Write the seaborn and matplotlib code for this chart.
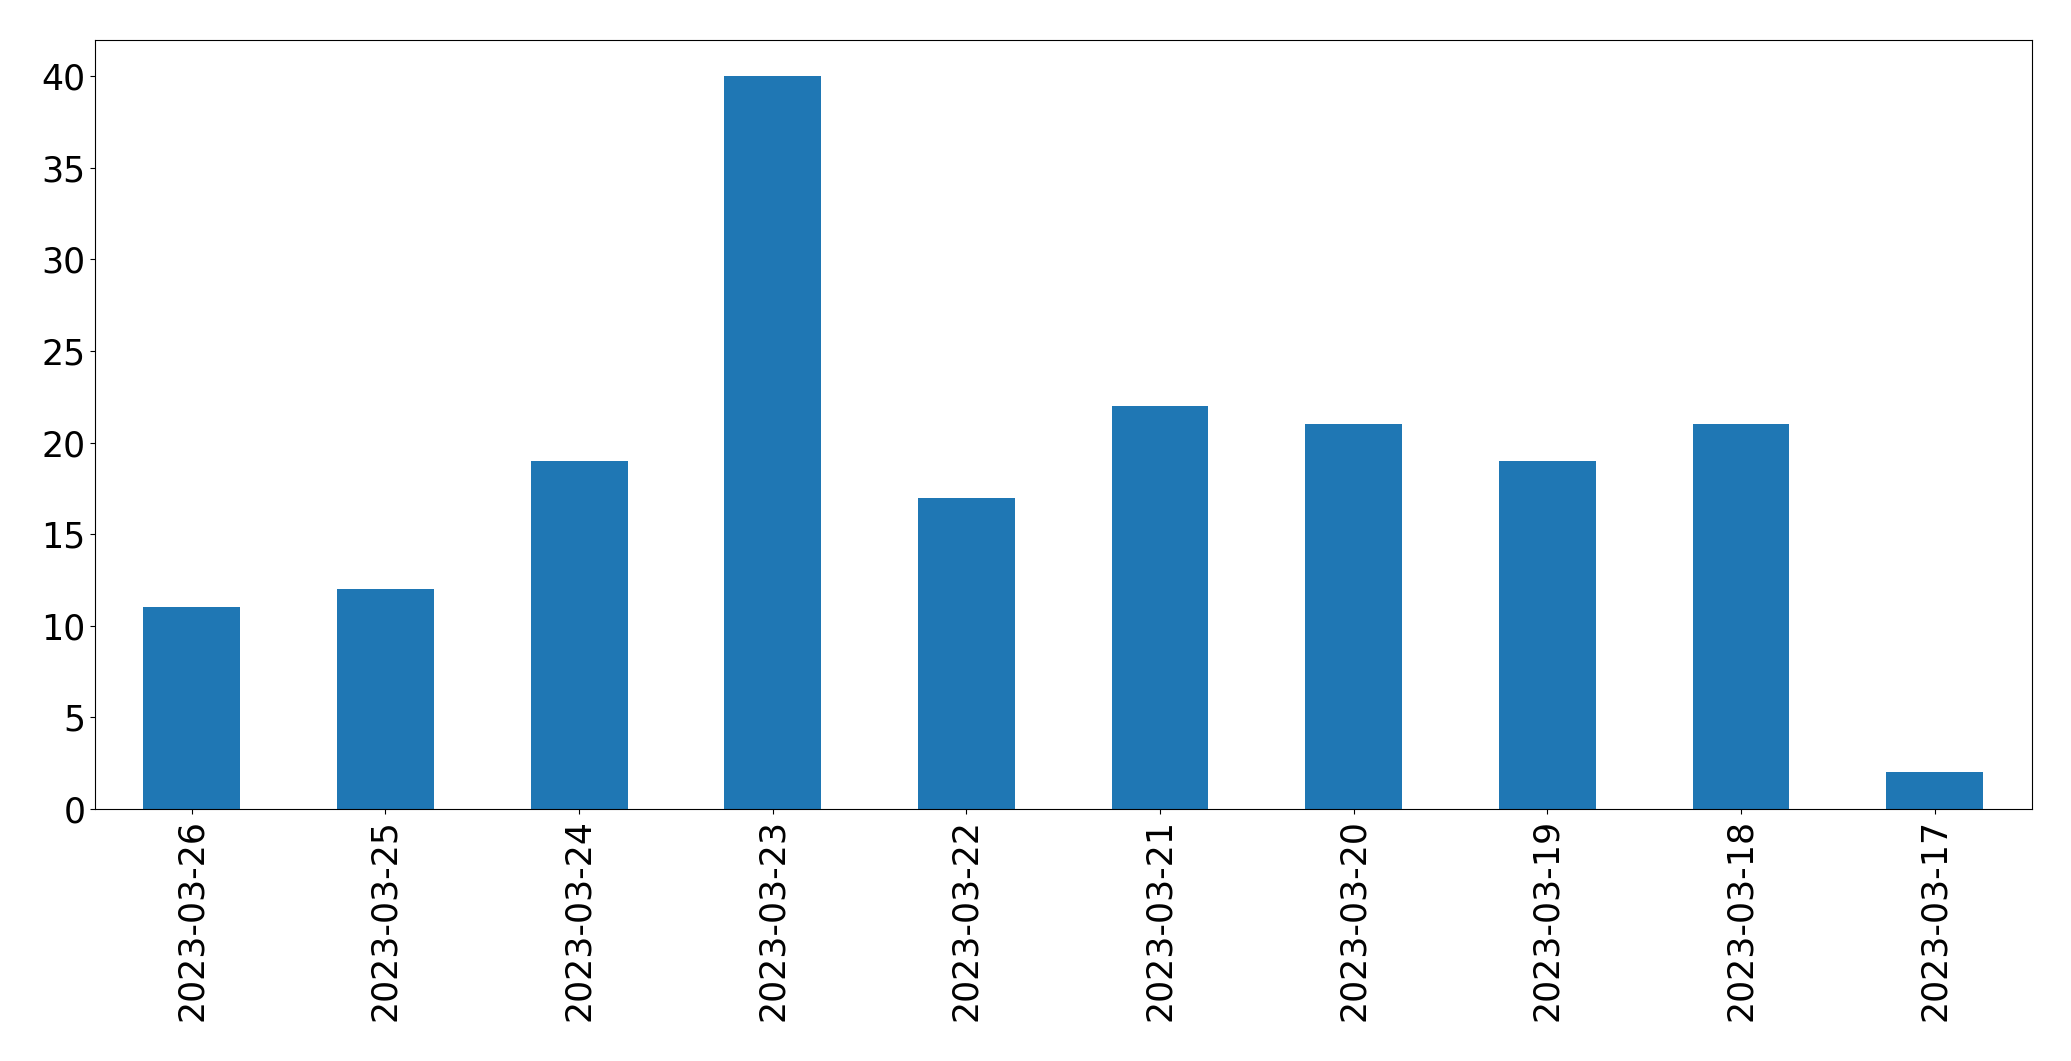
import matplotlib
matplotlib.use("Agg")
import matplotlib.pyplot as plt
import seaborn as sns
import pandas as pd

dates = ["2023-03-26", "2023-03-25", "2023-03-24", "2023-03-23", "2023-03-22",
         "2023-03-21", "2023-03-20", "2023-03-19", "2023-03-18", "2023-03-17"]
counts = [11, 12, 19, 40, 17, 22, 21, 19, 21, 2]

df = pd.DataFrame({"date": dates, "count": counts})

plt.rcParams['font.family'] = ['DejaVu Sans']
fig = plt.figure(figsize=(20.71, 10.61), dpi=100)
ax = fig.add_axes([95 / 2071, 1 - 809 / 1061, (2031.5 - 95) / 2071, (809 - 39.5) / 1061])

sns.barplot(data=df, x="date", y="count", order=dates, color="#1f77b4",
            saturation=1, width=0.5, ax=ax, errorbar=None)

ax.set_xlim(-0.5, len(dates) - 0.5)
ax.set_ylim(0, 42)
ax.set_xlabel("")
ax.set_ylabel("")
ax.tick_params(axis="both", labelsize=25)
ax.tick_params(axis="x", labelrotation=90)
for s in ax.spines.values():
    s.set_visible(True)
    s.set_color("black")

fig.savefig("out.png", dpi=100)
